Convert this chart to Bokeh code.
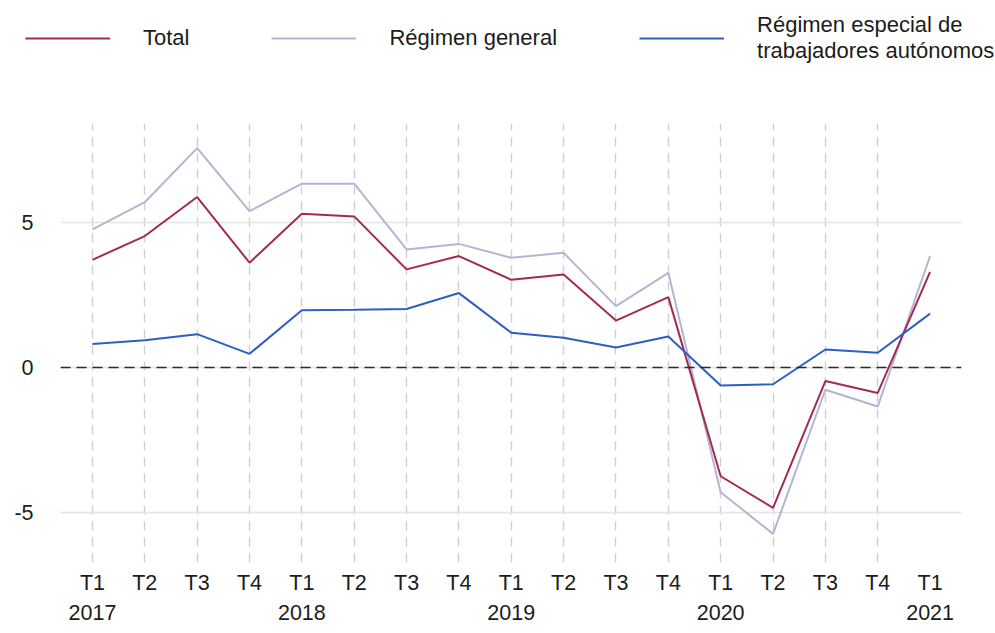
from bokeh.plotting import figure
from bokeh.layouts import column
from bokeh.models import (FixedTicker, LinearAxis, Legend, LegendItem, Span, Range1d)
from bokeh.embed import file_html
from bokeh.resources import INLINE

quarters = ["T1", "T2", "T3", "T4", "T1", "T2", "T3", "T4", "T1", "T2", "T3", "T4",
            "T1", "T2", "T3", "T4", "T1"]
years = ["2017", "", "", "", "2018", "", "", "", "2019", "", "", "",
         "2020", "", "", "", "2021"]
total = [3.72, 4.54, 5.89, 3.62, 5.31, 5.22, 3.39, 3.85, 3.03, 3.21, 1.62, 2.43,
         -3.76, -4.85, -0.47, -0.88, 3.30]
general = [4.77, 5.71, 7.58, 5.40, 6.35, 6.35, 4.08, 4.27, 3.79, 3.96, 2.12, 3.27,
           -4.31, -5.75, -0.77, -1.35, 3.85]
autonomos = [0.81, 0.94, 1.15, 0.47, 1.98, 1.99, 2.02, 2.57, 1.20, 1.03, 0.69, 1.07,
             -0.62, -0.58, 0.62, 0.51, 1.86]
y_ticks = [-5, 0, 5]
y_tick_labels = ["-5", "0", "5"]
labels = ["Total", "Régimen general", "Régimen especial de\ntrabajadores autónomos"]
colors = ["#a52a50", "#b3b5d5", "#2d5fc2"]
series = [total, general, autonomos]

x = list(range(len(quarters)))
FONT = "Liberation Sans"
FS = "21.5px"
LFS = "22px"
TXT = "#1c1c1c"
LEG_H = 100

# ---------------- legend strip ----------------
leg = figure(width=995, height=LEG_H, output_backend="svg", toolbar_location=None,
             x_axis_type=None, y_axis_type=None,
             x_range=Range1d(-100, -99), y_range=Range1d(-100, -99),
             min_border_left=0, min_border_right=0, min_border_top=0,
             min_border_bottom=0)
leg.frame_align = False
leg.outline_line_color = None
leg.xgrid.visible = False
leg.ygrid.visible = False
leg_items = []
for lab, ser, col in zip(labels, series, colors):
    r = leg.line(x, ser, line_color=col, line_width=2)
    leg_items.append(LegendItem(label=lab, renderers=[r]))
legend = Legend(items=leg_items, orientation="horizontal", location=(25, 36),
                glyph_width=85, glyph_height=20, label_standoff=33, spacing=82,
                padding=0, margin=0, border_line_color=None,
                background_fill_alpha=0, label_text_font=FONT,
                label_text_font_size=LFS, label_text_color=TXT,
                label_text_line_height=1.42)
leg.add_layout(legend, "center")

# ---------------- main chart ----------------
p = figure(width=995, height=633 - LEG_H, output_backend="svg", toolbar_location=None,
           x_range=Range1d(-0.61, 16.6), y_range=Range1d(-6.74, 8.43),
           min_border_left=60, min_border_right=34, min_border_top=123 - LEG_H,
           min_border_bottom=71)
p.outline_line_color = None
p.background_fill_color = "white"

p.xgrid.ticker = FixedTicker(ticks=x[:-1])
p.xgrid.grid_line_color = "#cfcfcf"
p.xgrid.grid_line_dash = "9 7"
p.xgrid.grid_line_width = 1.4
p.ygrid.ticker = FixedTicker(ticks=y_ticks)
p.ygrid.grid_line_color = "#e4e4e4"
p.ygrid.grid_line_width = 1.3

p.yaxis.ticker = FixedTicker(ticks=y_ticks)
p.yaxis.major_label_overrides = dict(zip(y_ticks, y_tick_labels))
p.yaxis.axis_line_color = None
p.yaxis.major_tick_line_color = None
p.yaxis.minor_tick_line_color = None
p.yaxis.major_tick_out = 0
p.yaxis.major_label_standoff = 27
p.yaxis.major_label_text_font = FONT
p.yaxis.major_label_text_font_size = FS
p.yaxis.major_label_text_color = TXT

p.xaxis.ticker = FixedTicker(ticks=x)
p.xaxis.major_label_overrides = {i: q for i, q in enumerate(quarters)}
p.xaxis.axis_line_color = None
p.xaxis.major_tick_line_color = None
p.xaxis.minor_tick_line_color = None
p.xaxis.major_tick_out = 0
p.xaxis.major_label_standoff = 8
p.xaxis.major_label_text_font = FONT
p.xaxis.major_label_text_font_size = FS
p.xaxis.major_label_text_color = TXT

year_ticks = [i for i, yv in enumerate(years) if yv]
ax2 = LinearAxis(ticker=FixedTicker(ticks=year_ticks),
                 major_label_overrides={i: years[i] for i in year_ticks})
ax2.axis_line_color = None
ax2.major_tick_line_color = None
ax2.minor_tick_line_color = None
ax2.major_tick_out = 0
ax2.major_label_standoff = 7
ax2.major_label_text_font = FONT
ax2.major_label_text_font_size = FS
ax2.major_label_text_color = TXT
p.add_layout(ax2, "below")

p.add_layout(Span(location=0, dimension="width", line_color="#2a2a2a",
                  line_dash="10 6", line_width=1.6))

p.line(x, general, line_color=colors[1], line_width=2)
p.line(x, total, line_color=colors[0], line_width=2)
p.line(x, autonomos, line_color=colors[2], line_width=2)

layout = column(leg, p, spacing=0)
open("out.html", "w").write(file_html(layout, INLINE))
